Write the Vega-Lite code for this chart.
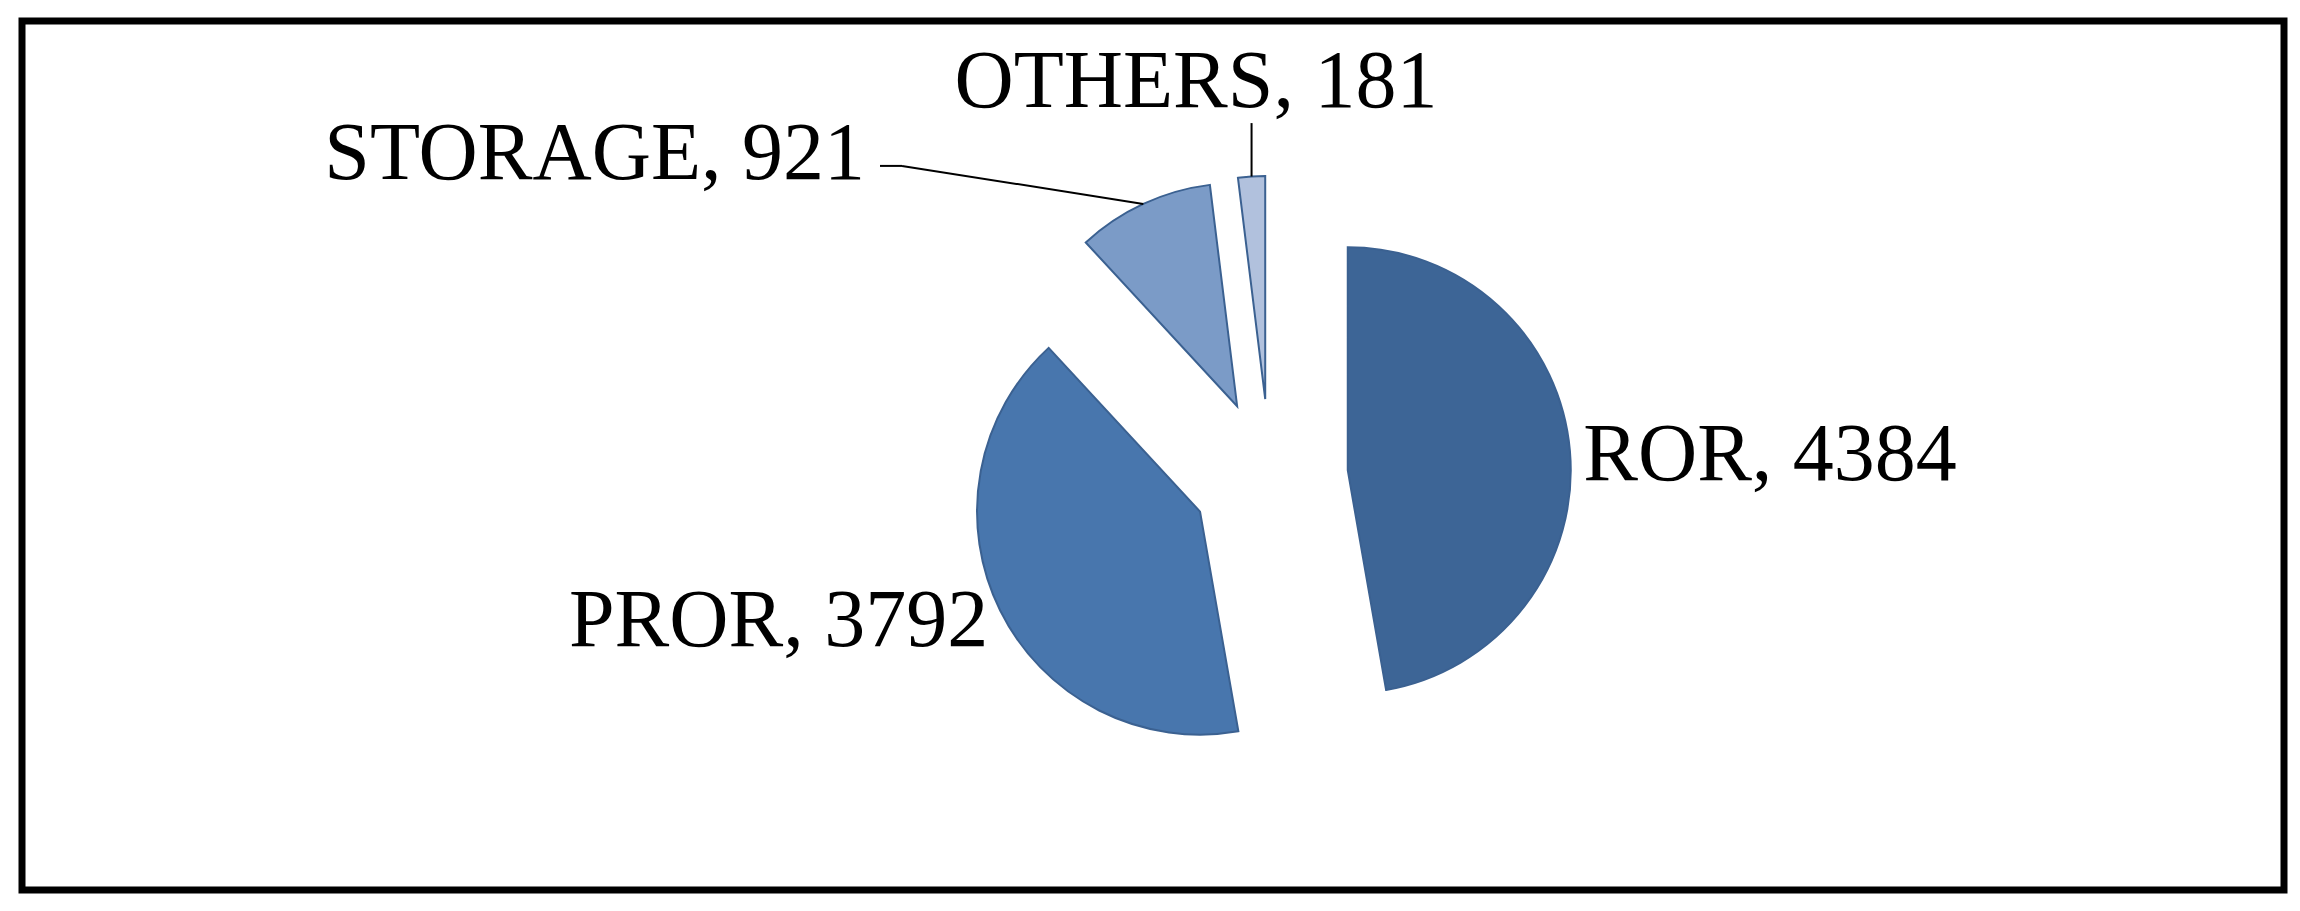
{
  "$schema": "https://vega.github.io/schema/vega-lite/v6.json",
  "width": 2300,
  "height": 911,
  "autosize": {"type": "fit", "contains": "padding"},
  "padding": {"left": 22, "top": 21, "right": 16, "bottom": 21},
  "background": "white",
  "config": {"view": {"stroke": "black", "strokeWidth": 7}},
  "data": {
    "values": [
      {"category": "ROR", "value": 4384},
      {"category": "PROR", "value": 3792},
      {"category": "STORAGE", "value": 921},
      {"category": "OTHERS", "value": 181}
    ]
  },
  "transform": [
    {"joinaggregate": [{"op": "sum", "field": "value", "as": "total"}]},
    {"stack": "value", "groupby": [], "sort": [{"field": "value", "order": "descending"}], "as": ["v0", "v1"]},
    {"calculate": "PI * (datum.v0 + datum.v1) / datum.total", "as": "mid"},
    {"calculate": "datum.value / datum.total", "as": "share"},
    {"calculate": "datum.category + ', ' + datum.value", "as": "label"},
    {"calculate": "0.35 * sin(datum.mid)", "as": "ex"},
    {"calculate": "0.35 * cos(datum.mid)", "as": "ey"},
    {"calculate": "1.35 * sin(datum.mid)", "as": "ox"},
    {"calculate": "1.35 * cos(datum.mid)", "as": "oy"},
    {"calculate": "1.41 * sin(datum.mid)", "as": "lx"},
    {"calculate": "1.41 * cos(datum.mid)", "as": "ly"}
  ],
  "layer": [
    {
      "mark": {"type": "arc", "radius": 223, "stroke": "#3b6191", "strokeWidth": 2, "strokeJoin": "miter"},
      "encoding": {
        "x": {"field": "ex", "type": "quantitative", "axis": null, "scale": {"domain": [-5.5964, 4.5471], "nice": false, "zero": false}},
        "y": {"field": "ey", "type": "quantitative", "axis": null, "scale": {"domain": [-1.852, 2.0448], "nice": false, "zero": false}},
        "theta": {"field": "v1", "type": "quantitative", "scale": {"nice": false, "zero": true}},
        "theta2": {"field": "v0"},
        "color": {
          "field": "category",
          "type": "nominal",
          "legend": null,
          "scale": {"domain": ["ROR", "PROR", "STORAGE", "OTHERS"], "range": ["#3d6596", "#4876ad", "#7b9bc7", "#b1c1dd"]}
        }
      }
    },
    {
      "transform": [{"filter": "datum.share >= 0.2"}],
      "mark": {"type": "text", "font": "Liberation Serif", "fontSize": 82, "color": "black", "baseline": "middle", "dy": 5, "align": {"expr": "datum.mid < PI ? 'left' : 'right'"}},
      "encoding": {
        "x": {"field": "lx", "type": "quantitative", "axis": null, "scale": {"domain": [-5.5964, 4.5471], "nice": false, "zero": false}},
        "y": {"field": "ly", "type": "quantitative", "axis": null, "scale": {"domain": [-1.852, 2.0448], "nice": false, "zero": false}},
        "text": {"field": "label"}
      }
    },
    {
      "transform": [{"filter": "datum.category == 'OTHERS'"}],
      "mark": {"type": "text", "font": "Liberation Serif", "fontSize": 82, "color": "black", "baseline": "alphabetic", "align": "center"},
      "encoding": {
        "x": {"datum": -0.332, "type": "quantitative", "axis": null, "scale": {"domain": [-5.5964, 4.5471], "nice": false, "zero": false}},
        "y": {"datum": 1.659, "type": "quantitative", "axis": null, "scale": {"domain": [-1.852, 2.0448], "nice": false, "zero": false}},
        "text": {"field": "label"}
      }
    },
    {
      "transform": [{"filter": "datum.category == 'STORAGE'"}],
      "mark": {"type": "text", "font": "Liberation Serif", "fontSize": 82, "color": "black", "baseline": "alphabetic", "align": "right"},
      "encoding": {
        "x": {"datum": -1.816, "type": "quantitative", "axis": null, "scale": {"domain": [-5.5964, 4.5471], "nice": false, "zero": false}},
        "y": {"datum": 1.335, "type": "quantitative", "axis": null, "scale": {"domain": [-1.852, 2.0448], "nice": false, "zero": false}},
        "text": {"field": "label"}
      }
    },
    {
      "transform": [{"filter": "datum.category == 'OTHERS'"}],
      "mark": {"type": "rule", "color": "black", "strokeWidth": 2},
      "encoding": {
        "x": {"field": "ox", "type": "quantitative", "axis": null, "scale": {"domain": [-5.5964, 4.5471], "nice": false, "zero": false}},
        "y": {"field": "oy", "type": "quantitative", "axis": null, "scale": {"domain": [-1.852, 2.0448], "nice": false, "zero": false}},
        "y2": {"datum": 1.587}
      }
    },
    {
      "transform": [{"filter": "datum.category == 'STORAGE'"}],
      "mark": {"type": "rule", "color": "black", "strokeWidth": 2},
      "encoding": {
        "x": {"field": "ox", "type": "quantitative", "axis": null, "scale": {"domain": [-5.5964, 4.5471], "nice": false, "zero": false}},
        "y": {"field": "oy", "type": "quantitative", "axis": null, "scale": {"domain": [-1.852, 2.0448], "nice": false, "zero": false}},
        "x2": {"datum": -1.65},
        "y2": {"datum": 1.395}
      }
    },
    {
      "transform": [{"filter": "datum.category == 'STORAGE'"}],
      "mark": {"type": "rule", "color": "black", "strokeWidth": 2},
      "encoding": {
        "x": {"datum": -1.749, "type": "quantitative", "axis": null, "scale": {"domain": [-5.5964, 4.5471], "nice": false, "zero": false}},
        "x2": {"datum": -1.65},
        "y": {"datum": 1.395, "type": "quantitative", "axis": null, "scale": {"domain": [-1.852, 2.0448], "nice": false, "zero": false}}
      }
    }
  ]
}
